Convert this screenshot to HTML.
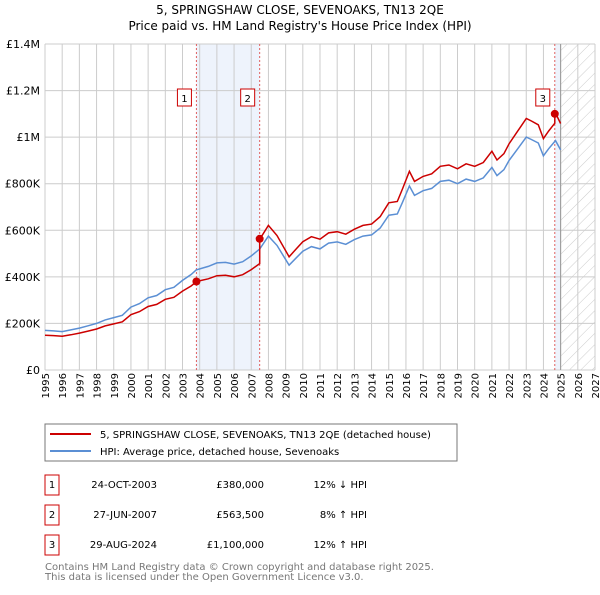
<!DOCTYPE html>
<html><head><meta charset="utf-8"><style>
body{margin:0;background:#fff;font-family:"Liberation Sans","DejaVu Sans",sans-serif;}
svg text{font-family:"DejaVu Sans","Liberation Sans",sans-serif;}
</style></head><body>
<svg id="c" width="600" height="590" viewBox="0 0 600 590">
<defs><pattern id="hatch" width="8" height="8" patternUnits="userSpaceOnUse" patternTransform="rotate(45)"><line x1="0" y1="0" x2="0" y2="8" stroke="#ccc" stroke-width="1"/></pattern></defs>
<text x="300" y="14" text-anchor="middle" font-size="12">5, SPRINGSHAW CLOSE, SEVENOAKS, TN13 2QE</text>
<text x="300" y="30" text-anchor="middle" font-size="12">Price paid vs. HM Land Registry's House Price Index (HPI)</text>
<g id="plot"></g>
<rect x="45" y="424" width="412" height="37" fill="#fff" stroke="#777"/>
<line x1="50" y1="434" x2="91" y2="434" stroke="#cc0000" stroke-width="2"/>
<text x="100" y="438" font-size="10">5, SPRINGSHAW CLOSE, SEVENOAKS, TN13 2QE (detached house)</text>
<line x1="50" y1="451" x2="91" y2="451" stroke="#5b8fd4" stroke-width="2"/>
<text x="100" y="455" font-size="10">HPI: Average price, detached house, Sevenoaks</text>
<g id="tbl" font-size="10"></g>
<text x="45" y="570" font-size="10" fill="#777">Contains HM Land Registry data © Crown copyright and database right 2025.</text>
<text x="45" y="580" font-size="10" fill="#777">This data is licensed under the Open Government Licence v3.0.</text>
</svg>
<script>
const hpiYears=[1995,1995.5,1996,1996.5,1997,1997.5,1998,1998.5,1999,1999.5,2000,2000.5,2001,2001.5,2002,2002.5,2003,2003.5,2003.8,2004.5,2005,2005.5,2006,2006.5,2007,2007.5,2008,2008.5,2009.2,2009.6,2010,2010.5,2011,2011.5,2012,2012.5,2013,2013.5,2014,2014.5,2015,2015.5,2015.8,2016.2,2016.5,2017,2017.5,2018,2018.5,2019,2019.5,2020,2020.5,2021,2021.3,2021.7,2022,2022.5,2023,2023.3,2023.7,2024,2024.3,2024.7,2025];
const hpiValues=[170,168,165,172,180,190,200,215,225,235,270,285,310,320,345,355,385,410,430,445,460,462,455,465,490,520,575,535,450,480,510,530,520,545,550,540,560,575,580,610,665,670,720,790,750,770,780,810,815,800,820,810,825,870,835,860,900,950,1000,990,975,920,950,985,945];
const saleYears=[2003.81,2007.49,2024.66];
const saleValues=[380,563.5,1100];
const saleRatios=[0.88,1.08,1.12];
const yTicks=[0,200,400,600,800,1000,1200,1400];
const yTickLabels=["£0","£200K","£400K","£600K","£800K","£1M","£1.2M","£1.4M"];
const tableDates=["24-OCT-2003","27-JUN-2007","29-AUG-2024"];
const tablePrices=["£380,000","£563,500","£1,100,000"];
const tableHpi=["12% ↓ HPI","8% ↑ HPI","12% ↑ HPI"];
const X0=45,X1=595,Y0=370,Y1=44,XMIN=1995,XMAX=2027,YMAX=1400;
const sx=v=>X0+(v-XMIN)/(XMAX-XMIN)*(X1-X0);
const sy=v=>Y0-v/YMAX*(Y0-Y1);
const NS="http://www.w3.org/2000/svg";
const g=document.getElementById('plot');
function mk(t,a,p){const e=document.createElementNS(NS,t);for(const k in a)e.setAttribute(k,a[k]);(p||g).appendChild(e);return e;}
let e;
e=mk('rect',{x:sx(saleYears[0]),y:Y1,width:sx(saleYears[1])-sx(saleYears[0]),height:Y0-Y1,fill:'#eef3fc'});


e=mk('rect',{x:sx(saleYears[2]),y:Y1,width:sx(2025)-sx(saleYears[2]),height:Y0-Y1,fill:'#eef3fc'});


e=mk('rect',{x:sx(2025),y:Y1,width:X1-sx(2025),height:Y0-Y1,fill:'url(#hatch)'});


for(let yr=XMIN;yr<=XMAX;yr++){
 e=mk('line',{x1:sx(yr),x2:sx(yr),y1:Y1,y2:Y0,stroke:'#ccc','stroke-width':1});
 
 
 e=mk('text',{x:0,y:0,'font-size':10,'text-anchor':'end',transform:`translate(${sx(yr)+4},${Y0+3}) rotate(-90)`});
 e.textContent=yr;
 
 
}
yTicks.forEach((v,i)=>{
 e=mk('line',{x1:X0,x2:X1,y1:sy(v),y2:sy(v),stroke:'#ccc','stroke-width':1});
 
 
 e=mk('text',{x:X0-5,y:sy(v)+4,'font-size':11,'text-anchor':'end'});
 e.textContent=yTickLabels[i];
 
 
});
e=mk('line',{x1:sx(2025),x2:sx(2025),y1:Y1,y2:Y0,stroke:'#999','stroke-width':1});


saleYears.forEach((s,i)=>{
 e=mk('line',{x1:sx(s),x2:sx(s),y1:Y1,y2:Y0,stroke:'#e06060','stroke-width':1,'stroke-dasharray':'2,2'});
 
 
});
// HPI line
let d=hpiYears.map((y,i)=>(i?'L':'M')+sx(y).toFixed(1)+','+sy(hpiValues[i]).toFixed(1)).join('');
e=mk('path',{d:d,fill:'none',stroke:'#5b8fd4','stroke-width':1.5});


// price line: HPI scaled by ratio of latest sale
function ratioAt(y){let r=saleRatios[0];saleYears.forEach((s,i)=>{if(y>=s)r=saleRatios[i];});return r;}
let pts=[];
hpiYears.forEach((y,i)=>{
 saleYears.forEach((s,j)=>{if(i>0&&hpiYears[i-1]<s&&y>=s){const v=hpiValues[i-1]+(hpiValues[i]-hpiValues[i-1])*(s-hpiYears[i-1])/(y-hpiYears[i-1]);pts.push([s,v*ratioAt(hpiYears[i-1])]);pts.push([s,saleValues[j]]);}});
 pts.push([y,hpiValues[i]*ratioAt(y)]);
});
d=pts.map((p,i)=>(i?'L':'M')+sx(p[0]).toFixed(1)+','+sy(p[1]).toFixed(1)).join('');
e=mk('path',{d:d,fill:'none',stroke:'#cc0000','stroke-width':1.5});


saleYears.forEach((s,i)=>{
 e=mk('circle',{cx:sx(s),cy:sy(saleValues[i]),r:4,fill:'#cc0000'});
 
 
 e=mk('rect',{x:sx(s)-19+ (i==2?0:0),y:89,width:14,height:17,fill:'#fff',stroke:'#cc0000'});
 
 
 e=mk('text',{x:sx(s)-12,y:102,'font-size':10,'text-anchor':'middle'});
 e.textContent=i+1;
 
 
});
const tb=document.getElementById('tbl');
tableDates.forEach((dt,i)=>{
 const y=483+i*30;
 e=mk('rect',{x:45,y:y-8,width:14,height:20,fill:'#fff',stroke:'#cc0000'},tb);
 
 
 e=mk('text',{x:52,y:y+5,'text-anchor':'middle'},tb);e.textContent=i+1;
 
 
 e=mk('text',{x:157,y:y+5,'text-anchor':'end'},tb);e.textContent=dt;
 
 
 e=mk('text',{x:264,y:y+5,'text-anchor':'end'},tb);e.textContent=tablePrices[i];
 
 
 e=mk('text',{x:367,y:y+5,'text-anchor':'end'},tb);e.textContent=tableHpi[i];
 
 
});
</script>
</body></html>
